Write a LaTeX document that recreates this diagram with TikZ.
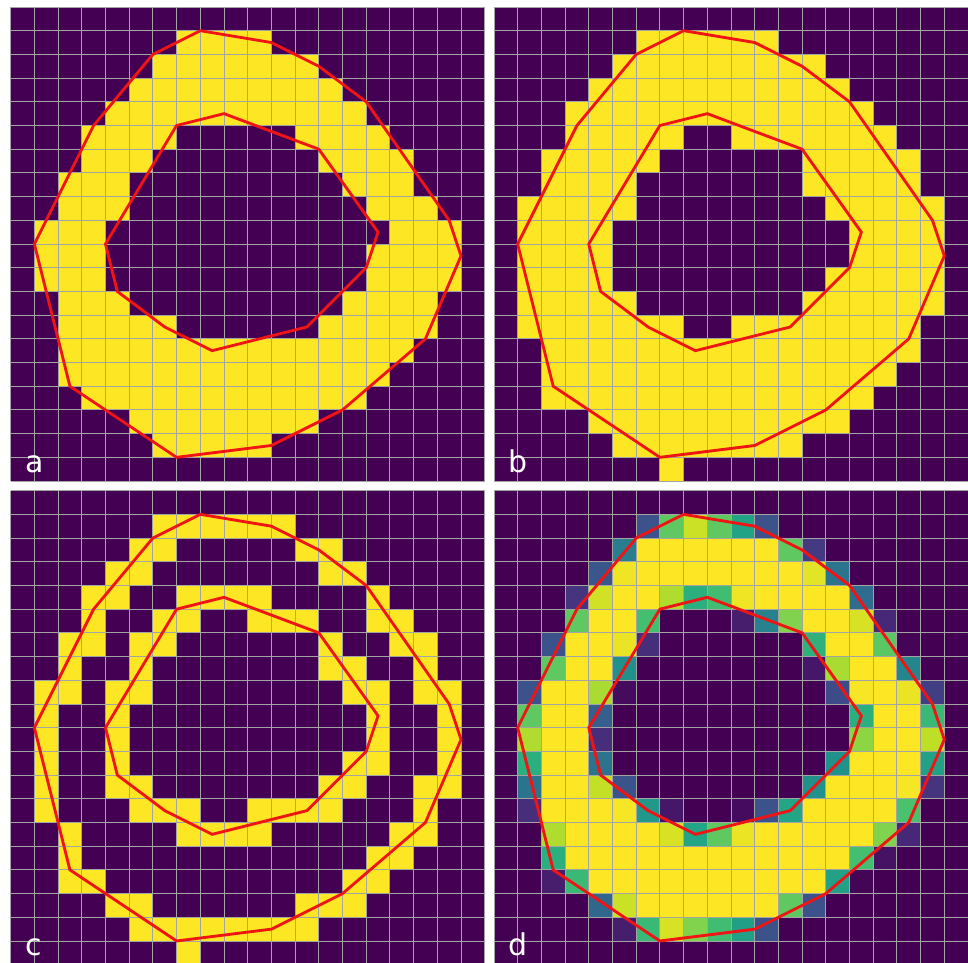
\documentclass[tikz,border=0pt]{standalone}
\usepackage{fontspec}
\usepackage{xcolor}
\newfontfamily\labelfont{DejaVu Sans}
\definecolor{vir0}{HTML}{440154}
\definecolor{vir1}{HTML}{482475}
\definecolor{vir2}{HTML}{414487}
\definecolor{vir3}{HTML}{355F8D}
\definecolor{vir4}{HTML}{2A788E}
\definecolor{vir5}{HTML}{21918C}
\definecolor{vir6}{HTML}{22A884}
\definecolor{vir7}{HTML}{44BF70}
\definecolor{vir8}{HTML}{7AD151}
\definecolor{vir9}{HTML}{BDDF26}
\definecolor{vir10}{HTML}{FDE725}
\definecolor{vir11}{HTML}{FDE725}
\definecolor{gridgray}{HTML}{A4A4A4}
\definecolor{contourred}{HTML}{F01414}

% Cell helper: \covercell{row}{col}{coverage in percent}
\newcommand{\covercell}[3]{%
  \pgfmathtruncatemacro{\vlo}{#3/10}%
  \pgfmathtruncatemacro{\vhi}{\vlo+1}%
  \pgfmathtruncatemacro{\vmix}{(#3-10*\vlo)*10}%
  \fill[vir\vhi!\vmix!vir\vlo] (#2,#1) rectangle ++(1,1);}
\newcommand{\drawgrid}{%
  \foreach \k in {0,...,20} {\draw[gridline] (\k,0) -- (\k,20); \draw[gridline] (0,\k) -- (20,\k);}}
\newcommand{\drawcontours}{%
  \draw[contour] (8,1) -- (11,1.5) -- (13,2.5) -- (15,4) -- (18.5,9) -- (19,10.5) -- (17.5,14)
    -- (14,17) -- (11,18.5) -- (7,19) -- (2.5,16) -- (1,10) -- (3.5,5) -- (6,2) -- cycle;
  \draw[contour] (9,4.5) -- (13,6) -- (15.5,9.5) -- (15,11) -- (12.5,13.5) -- (8.5,14.5)
    -- (6.5,13.5) -- (4.5,12) -- (4,10) -- (7,5) -- cycle;}

\begin{document}
\begin{tikzpicture}[x=0.5cm, y=-0.5cm,
    background/.style={fill=vir0},
    ringfill/.style={fill=vir10},
    gridline/.style={draw=gridgray, line width=0.55pt},
    contour/.style={draw=contourred, line width=1.7pt},
    panellabel/.style={font=\labelfont\fontsize{18}{18}\selectfont, text=white, anchor=base west, inner sep=0pt}]
  \path[fill=white, use as bounding box] (0,0) rectangle (40.84,40.59);
  % a: cells whose centres lie in the ring
  \begin{scope}[shift={(0.45,0.295)}]
    \fill[background] (0,0) rectangle (20,20);
    \foreach \r/\a/\b in {1/7/10, 2/6/12, 3/5/13, 4/4/14, 5/3/6, 5/12/15, 6/3/5, 6/13/16,
        7/2/4, 7/14/16, 8/2/4, 8/15/17, 9/1/3, 9/16/18, 10/1/3, 10/15/18, 11/1/3, 11/15/18,
        12/2/4, 12/14/17, 13/2/6, 13/13/17, 14/2/16, 15/2/15, 16/3/14, 17/5/12, 18/6/10}
      {\fill[ringfill] (\a,\r) rectangle (\b+1,\r+1);}
    \drawgrid
    \drawcontours
    \node[panellabel] (labela) at (0.62,19.62) {a};
  \end{scope}
  % b: cells touched by the ring
  \begin{scope}[shift={(20.84,0.295)}]
    \fill[background] (0,0) rectangle (20,20);
    \foreach \r/\a/\b in {1/6/11, 2/5/13, 3/4/14, 4/3/15, 5/3/7, 5/10/16, 6/2/6, 6/13/17,
        7/2/5, 7/13/17, 8/1/5, 8/14/18, 9/1/4, 9/15/18, 10/1/4, 10/15/18, 11/1/4, 11/14/18,
        12/1/5, 12/13/18, 13/1/7, 13/10/17, 14/2/17, 15/2/16, 16/2/15, 17/4/14, 18/5/12, 19/7/7}
      {\fill[ringfill] (\a,\r) rectangle (\b+1,\r+1);}
    \drawgrid
    \drawcontours
    \node[panellabel] (labelb) at (0.62,19.62) {b};
  \end{scope}
  % c: cells crossed by the contours
  \begin{scope}[shift={(0.45,20.70)}]
    \fill[background] (0,0) rectangle (20,20);
    \foreach \r/\a/\b in {1/6/11, 2/5/6, 2/12/13, 3/4/5, 3/13/14, 4/3/4, 4/7/10, 4/15/15,
        5/3/3, 5/6/7, 5/10/12, 5/15/16, 6/2/3, 6/5/6, 6/13/13, 6/16/17, 7/2/2, 7/5/5, 7/13/14,
        7/17/17, 8/1/2, 8/4/5, 8/14/15, 8/17/18, 9/1/1, 9/4/4, 9/15/15, 9/18/18, 10/1/1,
        10/4/4, 10/15/15, 10/18/18, 11/1/1, 11/4/4, 11/14/15, 11/18/18, 12/1/1, 12/4/5,
        12/13/14, 12/17/18, 13/1/1, 13/5/7, 13/10/13, 13/17/17, 14/2/2, 14/7/10, 14/16/17,
        15/2/2, 15/15/16, 16/2/3, 16/14/15, 17/4/5, 17/12/14, 18/5/12, 19/7/7}
      {\fill[ringfill] (\a,\r) rectangle (\b+1,\r+1);}
    \drawgrid
    \drawcontours
    \node[panellabel] (labelc) at (0.62,19.62) {c};
  \end{scope}
  % d: area coverage of each cell
  \begin{scope}[shift={(20.84,20.70)}]
    \fill[background] (0,0) rectangle (20,20);
    \foreach \r/\a/\b in {1/6/11, 2/5/13, 3/4/14, 4/3/15, 5/3/7, 5/10/16, 6/2/6, 6/13/17,
        7/2/5, 7/13/17, 8/1/5, 8/14/18, 9/1/4, 9/15/18, 10/1/4, 10/15/18, 11/1/4, 11/14/18,
        12/1/5, 12/13/18, 13/1/7, 13/10/17, 14/2/17, 15/2/16, 16/2/15, 17/4/14, 18/5/12, 19/7/7}
      {\fill[ringfill] (\a,\r) rectangle (\b+1,\r+1);}
    \foreach \r/\c/\v in {1/6/25, 1/7/75, 1/8/92, 1/9/75, 1/10/58, 1/11/25,
        2/5/42, 2/6/100, 2/12/75, 2/13/17, 3/4/27, 3/5/98, 3/13/96, 3/14/38,
        4/3/15, 4/4/93, 4/7/88, 4/8/63, 4/9/69, 4/10/98, 4/15/35,
        5/3/75, 5/6/70, 5/7/0, 5/10/8, 5/11/44, 5/12/81, 5/15/94, 5/16/11,
        6/2/25, 6/3/100, 6/5/97, 6/6/13, 6/13/64, 6/16/74, 6/17/1,
        7/2/75, 7/5/50, 7/13/6, 7/14/87, 7/17/45,
        8/1/25, 8/2/100, 8/4/87, 8/5/3, 8/14/23, 8/15/99, 8/17/97, 8/18/18,
        9/1/75, 9/4/30, 9/15/63, 9/18/67, 10/1/88, 10/4/13, 10/15/83, 10/18/90,
        11/1/63, 11/4/38, 11/14/50, 11/15/100, 11/18/57,
        12/1/38, 12/4/91, 12/5/26, 12/13/50, 12/14/100, 12/17/99, 12/18/15,
        13/1/13, 13/5/99, 13/6/53, 13/7/6, 13/10/3, 13/11/25, 13/12/59, 13/13/100, 13/17/71,
        14/2/88, 14/7/94, 14/8/59, 14/9/75, 14/10/97, 14/16/81, 14/17/11,
        15/2/63, 15/15/70, 15/16/5, 16/2/8, 16/3/67, 16/14/57, 16/15/1,
        17/4/33, 17/5/92, 17/12/75, 17/13/25, 17/14/0,
        18/5/8, 18/6/67, 18/7/94, 18/8/81, 18/9/69, 18/10/56, 18/11/25, 18/12/0, 19/7/0}
      {\covercell{\r}{\c}{\v}}
    \drawgrid
    \drawcontours
    \node[panellabel] (labeld) at (0.62,19.62) {d};
  \end{scope}
\end{tikzpicture}
\end{document}
